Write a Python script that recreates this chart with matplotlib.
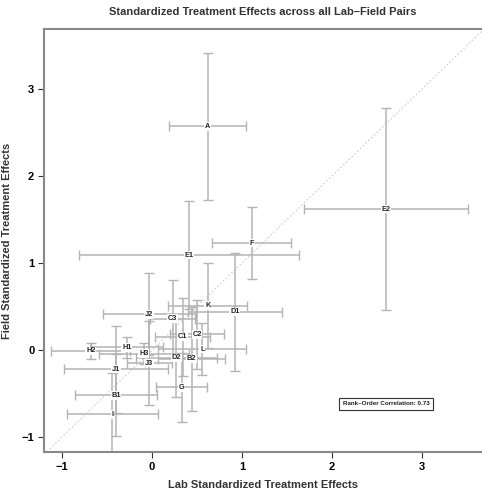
import matplotlib
matplotlib.use("Agg")
import matplotlib.pyplot as plt
import numpy as np

plt.rcParams['font.family'] = ['Liberation Sans', 'DejaVu Sans']

# lab / field standardized effects (symmetric CIs)
labels = ['A', 'E2', 'F', 'E1', 'K', 'D1', 'J2', 'C3', 'C1', 'C2', 'L',
          'D2', 'B2', 'G', 'H1', 'H2', 'H3', 'J3', 'J1', 'B1', 'I']
lab = [0.62, 2.60, 1.11, 0.41, 0.62, 0.92, -0.03, 0.23, 0.34, 0.50, 0.56,
       0.27, 0.44, 0.33, -0.28, -0.68, -0.09, -0.03, -0.40, -0.40, -0.44]
lab_err = [0.43, 0.91, 0.44, 1.22, 0.44, 0.52, 0.52, 0.25, 0.31, 0.30, 0.49,
           0.45, 0.37, 0.28, 0.40, 0.44, 0.50, 0.25, 0.58, 0.46, 0.51]
field = [2.57, 1.62, 1.23, 1.09, 0.51, 0.44, 0.41, 0.36, 0.15, 0.18, 0.01,
         -0.09, -0.10, -0.43, 0.03, -0.01, -0.04, -0.15, -0.22, -0.52, -0.74]
field_err = [0.85, 1.16, 0.41, 0.62, 0.49, 0.68, 0.47, 0.45, 0.45, 0.40, 0.30,
             0.45, 0.60, 0.40, 0.12, 0.09, 0.12, 0.48, 0.50, 0.47, 0.48]
rank_corr = 0.73

fig = plt.figure(figsize=(4.82, 4.91), dpi=100)
ax = fig.add_axes([0.0913, 0.0794, 0.9087, 0.8615])

ax.errorbar(lab, field, xerr=lab_err, yerr=field_err, fmt='none',
            ecolor='#b4b4b4', elinewidth=1.1, capsize=3.5, capthick=1.0, zorder=2)
for t, x, y in zip(labels, lab, field):
    ax.text(x, y, t, ha='center', va='center', fontsize=5.3, fontweight='bold',
            color='#222233', zorder=4,
            bbox=dict(boxstyle='square,pad=0.1', fc='white', ec='none'))

lim = [-1.2, 3.7]
ax.plot(lim, lim, ls=(0, (1.5, 2)), color='#cccccc', lw=0.8, zorder=1)
ax.set_xlim(-1.2, 3.667)
ax.set_ylim(-1.172, 3.69)

ax.text(2.6, -0.62, 'Rank\u2013Order Correlation: %.2f' % rank_corr, ha='center',
        va='center', fontsize=4.5, fontweight='bold', color='#222222',
        bbox=dict(boxstyle='square,pad=0.6', fc='white', ec='#333333', lw=0.8))

for s in ['left', 'bottom', 'top']:
    ax.spines[s].set_color('#888888')
    ax.spines[s].set_linewidth(1.5)
ax.spines['right'].set_visible(False)
ax.set_xticks([-1, 0, 1, 2, 3])
ax.set_yticks([-1, 0, 1, 2, 3])
ax.set_xticklabels(['\u22121', '0', '1', '2', '3'])
ax.set_yticklabels(['\u22121', '0', '1', '2', '3'])
ax.tick_params(direction='out', length=4, width=0.8, color='#333333',
               labelsize=8, pad=3)
for lbl in ax.get_xticklabels() + ax.get_yticklabels():
    lbl.set_fontweight('bold')

ax.set_xlabel('Lab Standardized Treatment Effects', fontsize=8, fontweight='bold',
              color='#333333', labelpad=6)
ax.set_ylabel('Field Standardized Treatment Effects', fontsize=8, fontweight='bold',
              color='#333333')
ax.yaxis.set_label_coords(-0.072, 0.5)
ax.set_title('Standardized Treatment Effects across all Lab\u2013Field Pairs',
             fontsize=8, fontweight='bold', color='#333333', pad=10)

fig.savefig('out.png', dpi=100)
